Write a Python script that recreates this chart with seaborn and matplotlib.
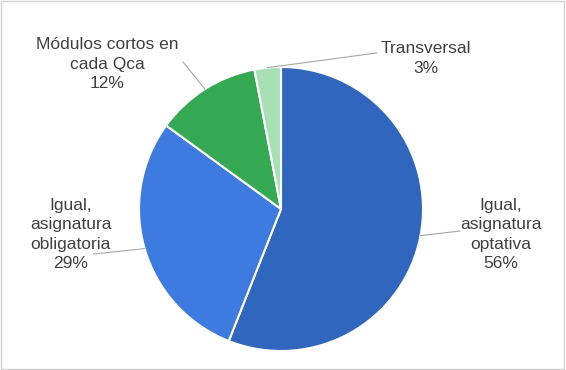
import matplotlib
matplotlib.use("Agg")
import numpy as np
import matplotlib.pyplot as plt
import seaborn as sns
from matplotlib.patches import Rectangle

# data
labels = ["Igual,\nasignatura\noptativa", "Igual,\nasignatura\nobligatoria",
          "Módulos cortos en\ncada Qca", "Transversal"]
shares = [56, 29, 12, 3]
colors = ["#3166BE", "#3D7BE0", "#34A853", "#A8E0B5"]

# label spots (pie radius = 1): text centre, end of leader line
text_pos = [(1.55, -0.18), (-1.48, -0.18), (-1.225, 1.02), (1.02, 1.06)]
line_end = [(1.26, -0.155), (-1.32, -0.317), (-0.69, 1.035), (0.676, 1.099)]

sns.set_theme(style="white")
plt.rcParams["font.family"] = ["Liberation Sans", "DejaVu Sans"]

fig = plt.figure(figsize=(5.66, 3.70), dpi=100)
cx, cy, r = 281, 209, 142
ax = fig.add_axes([(cx - r) / 566, (370 - cy - r) / 370, 2 * r / 566, 2 * r / 370])

wedges, _ = ax.pie(shares, colors=colors, startangle=90, counterclock=False,
                   radius=1, wedgeprops=dict(edgecolor="white", linewidth=1.5))
ax.set_xlim(-1, 1)
ax.set_ylim(-1, 1)
ax.set_aspect("equal")
ax.axis("off")

for w, lab, s, tp, le in zip(wedges, labels, shares, text_pos, line_end):
    ang = np.deg2rad((w.theta1 + w.theta2) / 2)
    edge = (np.cos(ang), np.sin(ang))
    ax.annotate("", xy=edge, xytext=le,
                arrowprops=dict(arrowstyle="-", color="#A6A6A6", lw=0.8,
                                shrinkA=0, shrinkB=0),
                annotation_clip=False)
    ax.text(tp[0], tp[1], f"{lab}\n{s}%", ha="center", va="center",
            fontsize=12.5, color="#404040", linespacing=1.35, clip_on=False)

fig.patches.append(Rectangle((0.002, 0.003), 0.995, 0.993, transform=fig.transFigure,
                             fill=False, edgecolor="#D0D0D0", linewidth=1))

fig.savefig("out.png", dpi=100)
